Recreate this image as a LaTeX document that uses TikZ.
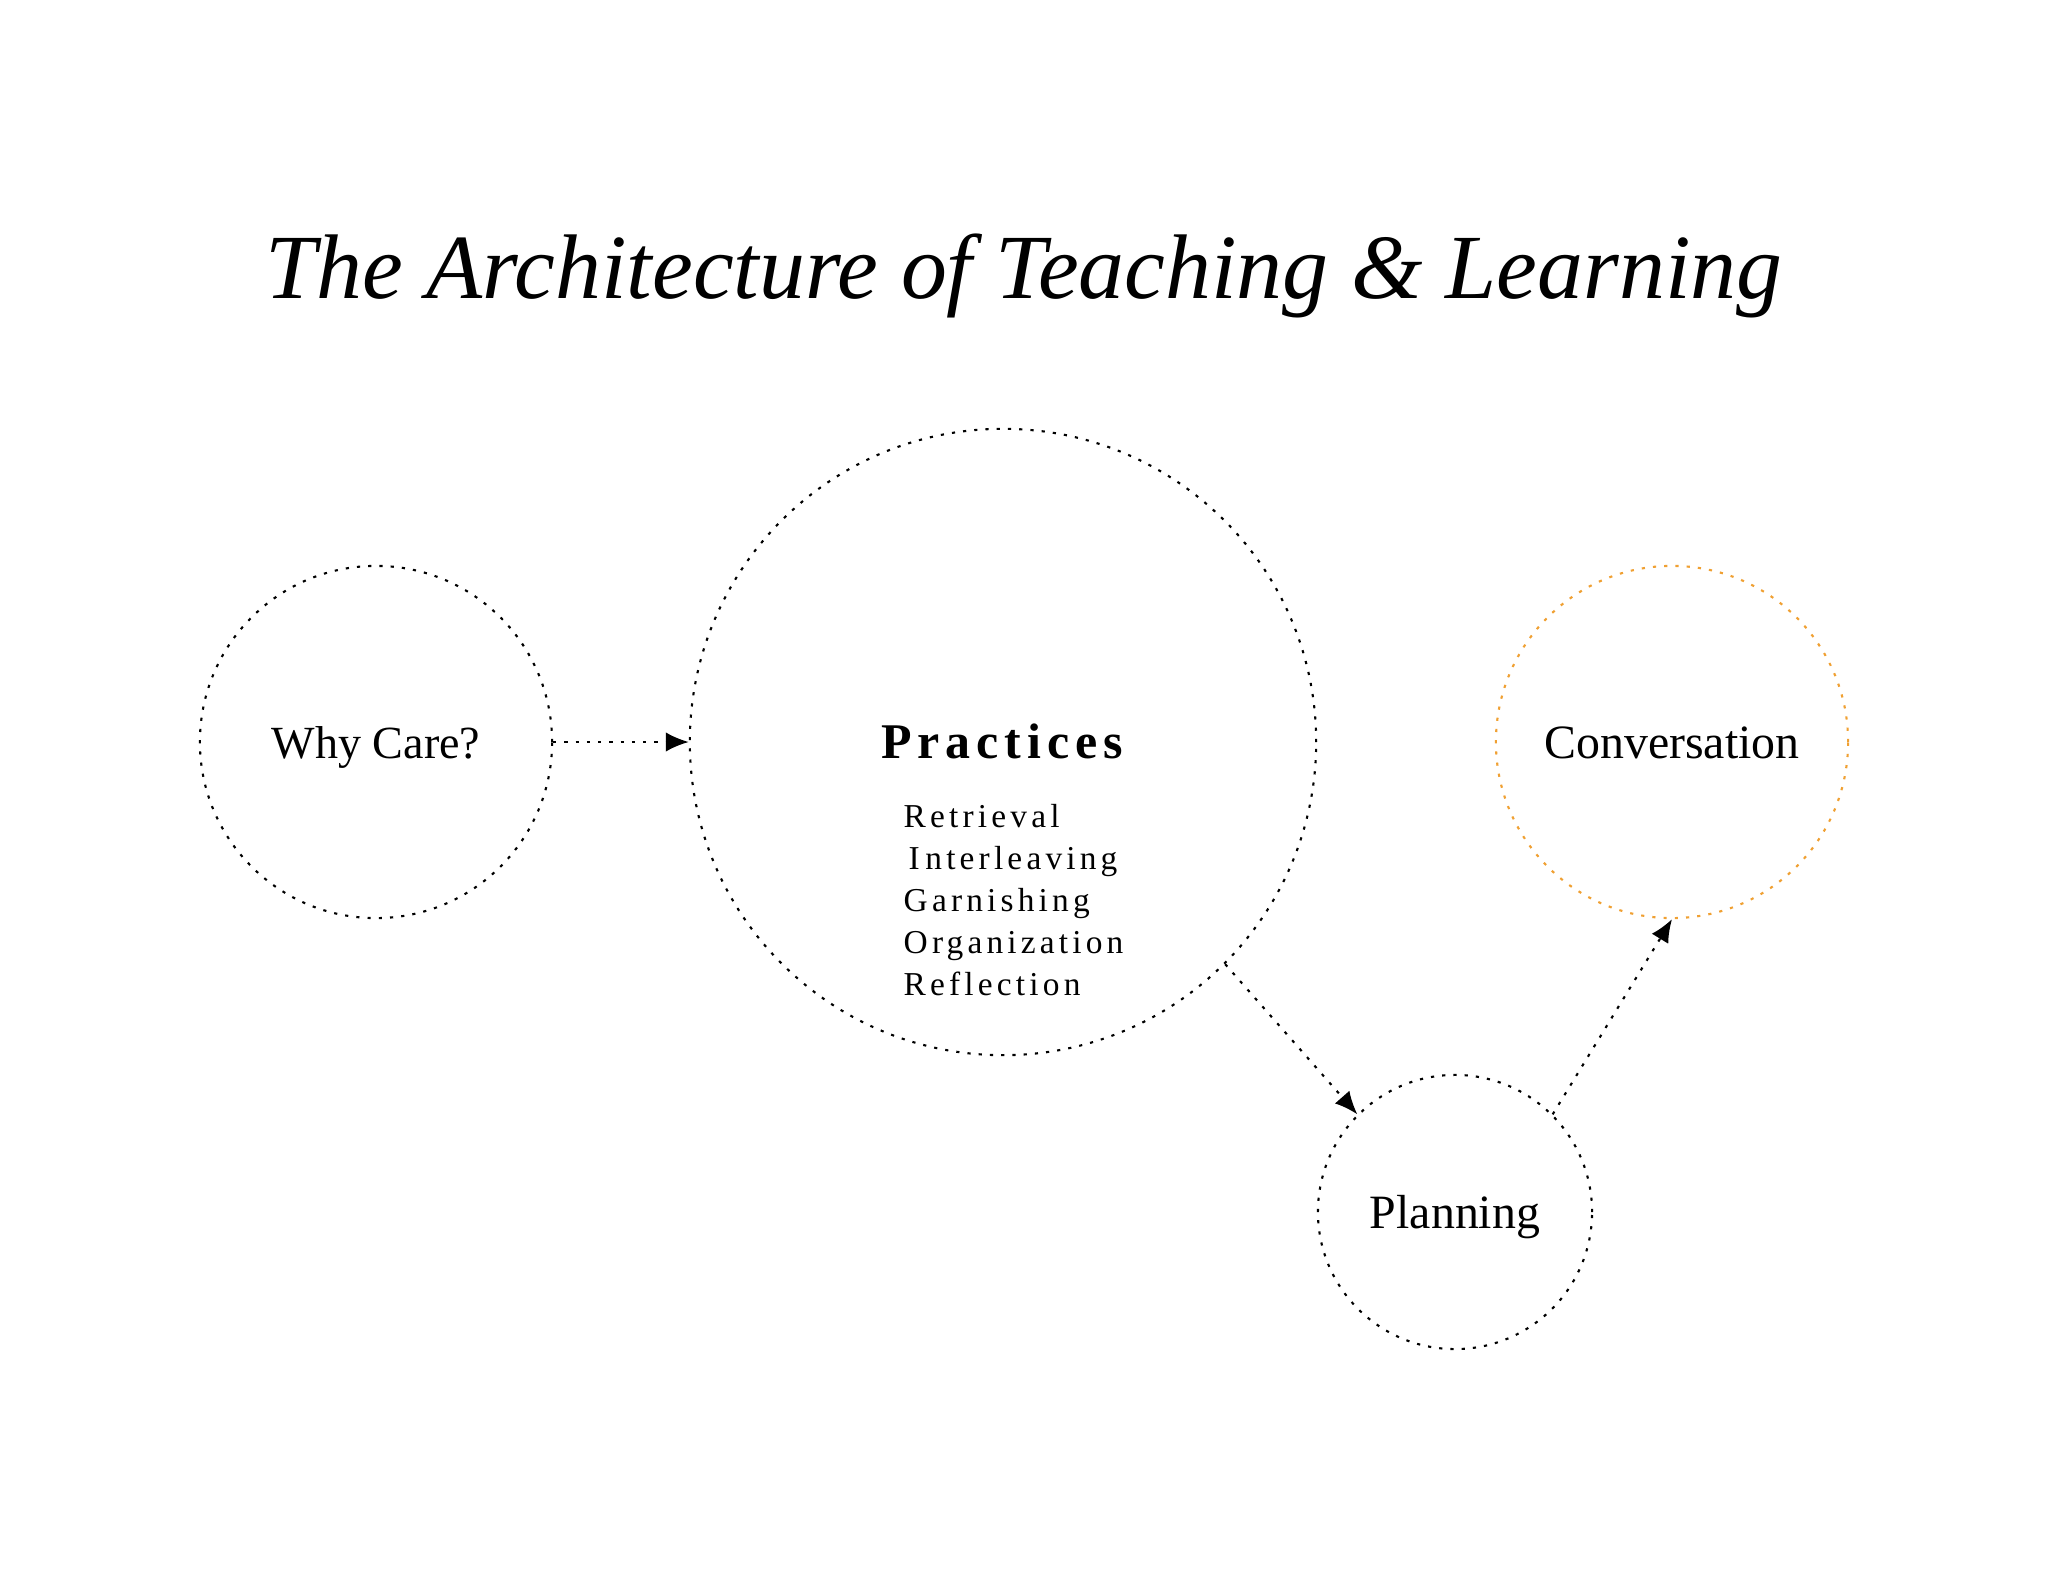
\documentclass[tikz,border=0pt]{standalone}
\usepackage{fontspec}
\setmainfont{Liberation Serif}
\newfontfamily\pracfont[LetterSpace=12]{Liberation Serif}
\newfontfamily\listfont[LetterSpace=12.5]{Liberation Serif}
\usetikzlibrary{arrows.meta}
\definecolor{convorange}{RGB}{240,160,50}
\begin{document}
\begin{tikzpicture}[x=0.01cm,y=-0.01cm,
  dotline/.style={line width=0.6pt,dash pattern=on 0.9pt off 2.3pt},
  ring/.style={circle,draw,dotline,inner sep=0pt},
  label/.style={font=\fontsize{13.6}{16}\selectfont},
  link/.style={dotline,-{Latex[length=6.5pt,width=5.5pt]}},
  item/.style={anchor=base west,inner sep=0pt,font=\listfont\fontsize{9.5}{11}\selectfont}]
\useasboundingbox (0,0) rectangle (2048,1582);
\fill[white] (0,0) rectangle (2048,1582);
\node[anchor=base,inner sep=0pt,font=\itshape\fontsize{26.1}{31}\selectfont] (title) at (1024,298) {The Architecture of Teaching \& Learning};
\node[ring,minimum size=3.52cm] (why) at (376,742) {};
\node[ring,draw=convorange,minimum size=3.52cm] (conv) at (1672,742) {};
\node[ring,minimum size=2.74cm] (plan) at (1455,1212) {};
\node[ring,minimum size=6.26cm] (prac) at (1003,742) {};
\node[anchor=base,inner sep=0pt,label,font=\fontsize{13.1}{16}\selectfont] (whytext) at (376,758) {Why Care?};
\node[anchor=base,inner sep=0pt,label] (convtext) at (1672,758) {Conversation};
\node[anchor=base,inner sep=0pt,label] (plantext) at (1455,1228) {Planning};
\node[anchor=base,inner sep=0pt,font=\pracfont\bfseries\fontsize{14.2}{17}\selectfont] (prachead) at (1002,758) {Practices};
\node[item] (i1) at (903,827) {Retrieval};
\node[item] (i2) at (908,869) {I\,nterleaving};
\node[item] (i3) at (903,911) {Garnishing};
\node[item] (i4) at (903,953) {Organization};
\node[item] (i5) at (903,995) {Reflection};
\draw[link] (why.east) -- (prac.west);
\draw[link] (prac.-45) -- (plan.135);
\draw[link] (plan.45) -- (conv.south);
\end{tikzpicture}
\end{document}
